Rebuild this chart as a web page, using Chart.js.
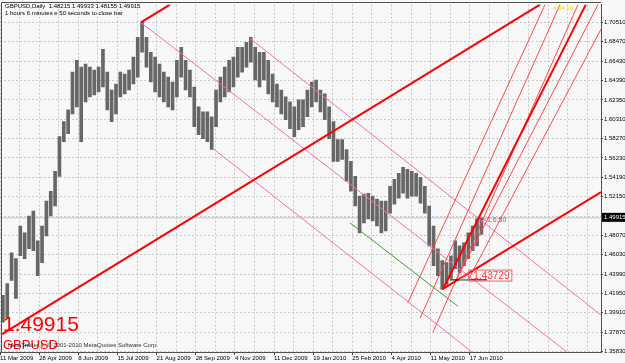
<!DOCTYPE html>
<html>
<head>
<meta charset="utf-8">
<script src="https://cdn.jsdelivr.net/npm/chart.js@4.4.1/dist/chart.umd.min.js"></script>
<style>
  html, body { margin: 0; padding: 0; background: #f8f8f8; }
  canvas { display: block; }
</style>
</head>
<body>
<canvas id="chart" width="625" height="363"></canvas>
<script>
// GBPUSD daily, one entry per ~3 trading days, x in trading days from 11 Mar 2009
var dateLabels = ["11 Mar 2009", "28 Apr 2009", "8 Jun 2009", "15 Jul 2009", "21 Aug 2009", "28 Sep 2009",
  "4 Nov 2009", "11 Dec 2009", "19 Jan 2010", "25 Feb 2010", "4 Apr 2010", "11 May 2010", "17 Jun 2010"];
var priceTicks = [1.35830, 1.37870, 1.39910, 1.41950, 1.43990, 1.46030, 1.48070, 1.50110, 1.52150,
  1.54190, 1.56230, 1.58270, 1.60310, 1.62350, 1.64390, 1.66430, 1.68470, 1.70510];

var barHighs = [1.4174, 1.4300, 1.4624, 1.4561, 1.4906, 1.4833, 1.5011, 1.5063, 1.4749, 1.4906,
  1.5168, 1.5272, 1.5482, 1.5848, 1.6005, 1.6130, 1.6528, 1.6653, 1.6580, 1.6611,
  1.6580, 1.6549, 1.6580, 1.6768, 1.6528, 1.6339, 1.6402, 1.6528, 1.6507, 1.6549,
  1.6685, 1.6894, 1.7051, 1.6894, 1.6737, 1.6685, 1.6611, 1.6528, 1.6475, 1.6423,
  1.6653, 1.6789, 1.6653, 1.6549, 1.6371, 1.6162, 1.6109, 1.6109, 1.6057, 1.6339,
  1.6475, 1.6580, 1.6653, 1.6685, 1.6789, 1.6789, 1.6842, 1.6894, 1.6789, 1.6737,
  1.6737, 1.6653, 1.6507, 1.6402, 1.6339, 1.6266, 1.6214, 1.6162, 1.6235, 1.6235,
  1.6339, 1.6423, 1.6444, 1.6339, 1.6298, 1.6162, 1.6005, 1.5816, 1.5816, 1.5712,
  1.5586, 1.5429, 1.5220, 1.5241, 1.5251, 1.5220, 1.5189, 1.5168, 1.5168, 1.5325,
  1.5398, 1.5461, 1.5523, 1.5503, 1.5482, 1.5461, 1.5419, 1.5325, 1.5116, 1.4906,
  1.4666, 1.4540, 1.4519, 1.4592, 1.4749, 1.4697, 1.4728, 1.4833, 1.4906, 1.4980,
  1.4993];
var barLows = [1.3892, 1.3933, 1.4331, 1.4143, 1.4592, 1.4561, 1.4666, 1.4645, 1.4383, 1.4519,
  1.4802, 1.5011, 1.5116, 1.5429, 1.5795, 1.5879, 1.6088, 1.6162, 1.5795, 1.6214,
  1.6266, 1.6287, 1.6318, 1.6371, 1.6130, 1.6005, 1.6088, 1.6266, 1.6298, 1.6339,
  1.6402, 1.6475, 1.6737, 1.6580, 1.6423, 1.6318, 1.6266, 1.6214, 1.6162, 1.6130,
  1.6266, 1.6475, 1.6339, 1.6266, 1.5952, 1.5869, 1.5827, 1.5795, 1.5712, 1.5952,
  1.6214, 1.6266, 1.6318, 1.6371, 1.6475, 1.6528, 1.6580, 1.6632, 1.6444, 1.6371,
  1.6444, 1.6298, 1.6214, 1.6162, 1.6088, 1.6026, 1.5931, 1.5848, 1.5921, 1.5952,
  1.6057, 1.6162, 1.6214, 1.6109, 1.6026, 1.5827, 1.5586, 1.5586, 1.5607, 1.5377,
  1.5272, 1.5116, 1.4833, 1.4938, 1.4980, 1.4959, 1.4906, 1.4833, 1.4854, 1.5042,
  1.5136, 1.5199, 1.5251, 1.5199, 1.5220, 1.5220, 1.5147, 1.5042, 1.4697, 1.4488,
  1.4383, 1.4237, 1.4289, 1.4352, 1.4456, 1.4415, 1.4488, 1.4561, 1.4645, 1.4697,
  1.4816];

var lastPrice = 1.49915;
var priceLabel = 1.43729;

// drawn objects, each [[day, price], [day, price]]
var redThick = [
  [[1.4, 1.3766], [372.4, 1.7239]],
  [[97.2, 1.7051], [117.2, 1.7239]],
  [[305.5, 1.4242], [414.5, 1.5262]],
  [[305.5, 1.4242], [404.0, 1.7239]]
];
var redThin = [
  [[281.4, 1.4101], [375.9, 1.7239]],
  [[289.7, 1.3933], [386.2, 1.7239]],
  [[298.6, 1.3786], [398.6, 1.7239]],
  [[313.8, 1.4310], [414.5, 1.7300]],
  [[323.4, 1.4352], [414.5, 1.6980]]
];
var pinkLines = [
  [[172.4, 1.6883], [414.5, 1.3967]],
  [[97.2, 1.7051], [391.0, 1.3578]],
  [[146.9, 1.5722], [325.5, 1.3578]]
];
var greenLines = [
  [[241.4, 1.4938], [315.9, 1.4059]]
];
var blackLines = [
  [[310.3, 1.4338], [335.9, 1.4338]]
];

var barDays = barHighs.map(function (h, i) { return 2 + 3 * i; });
var gridDays = [];
for (var k = 0; k <= 30; k++) gridDays.push(13.5 * k);

function seg(points, color, width, order) {
  return {
    type: "line",
    data: points.map(function (p) { return { x: p[0], y: p[1] }; }),
    borderColor: color,
    borderWidth: width,
    pointRadius: 0,
    fill: false,
    tension: 0,
    clip: 0,
    order: order
  };
}

var datasets = [];
datasets.push(seg([[0, lastPrice], [414.5, lastPrice]], "#c4c4c4", 1, 20));
datasets.push({
  type: "bar",
  data: barDays.map(function (d, i) { return { x: d, y: [barLows[i], barHighs[i]] }; }),
  backgroundColor: "#676767",
  barThickness: 3,
  grouped: false,
  order: 10
});
pinkLines.forEach(function (l) { datasets.push(seg(l, "#f76cb6", 1, 5)); });
greenLines.forEach(function (l) { datasets.push(seg(l, "#3ca03c", 1, 5)); });
redThin.forEach(function (l) { datasets.push(seg(l, "#ff4a4a", 1, 4)); });
redThick.forEach(function (l) { datasets.push(seg(l, "#ff0000", 2, 3)); });
blackLines.forEach(function (l) { datasets.push(seg(l, "#000000", 1, 2)); });

var overlay = {
  id: "overlay",
  beforeDraw: function (chart) {
    var ctx = chart.ctx;
    ctx.save();
    ctx.fillStyle = "#f8f8f8";
    ctx.fillRect(0, 0, chart.width, chart.height);
    ctx.restore();
  },
  afterDraw: function (chart) {
    var ctx = chart.ctx, xs = chart.scales.x, ys = chart.scales.y;
    ctx.save();
    // frame
    ctx.strokeStyle = "#505050";
    ctx.lineWidth = 1;
    ctx.beginPath();
    ctx.moveTo(1.5, 352); ctx.lineTo(1.5, 2.5); ctx.lineTo(601, 2.5);
    ctx.stroke();

    ctx.textBaseline = "middle";
    ctx.fillStyle = "#000000";
    ctx.font = "6px 'Liberation Sans'";
    ctx.fillText("GBPUSD,Daily  1.48215 1.49933 1.48155 1.49915", 5, 6.5);
    ctx.fillText("1 hours 6 minutes e 50 seconds to close bar", 5, 13);

    ctx.fillStyle = "#ff0000";
    ctx.font = "21px 'Liberation Sans'";
    ctx.textBaseline = "alphabetic";
    ctx.fillText("1.49915", 3, 331);
    ctx.font = "13px 'Liberation Sans'";
    ctx.fillText("GBPUSD", 3, 349);
    ctx.fillStyle = "#333333";
    ctx.font = "6px 'Liberation Sans'";
    ctx.textBaseline = "middle";
    ctx.fillText("MetaTrader 4, \u00a9 2001-2010 MetaQuotes Software Corp.", 8, 345);

    // yellow clock text
    ctx.fillStyle = "#e8e000";
    ctx.fillText("4:34:19", 553, 8);

    // time left label near last bar
    ctx.fillStyle = "#b040b0";
    ctx.font = "7px 'Liberation Sans'";
    ctx.fillText("<1:6:50", xs.getPixelForValue(333), ys.getPixelForValue(lastPrice) + 2);

    // price label object
    var px = xs.getPixelForValue(323), py = ys.getPixelForValue(priceLabel);
    ctx.strokeStyle = "#ff6060";
    ctx.strokeRect(px + 0.5, py - 6.5, 43, 11);
    ctx.fillStyle = "#ff4040";
    ctx.font = "10px 'Liberation Sans'";
    ctx.fillText(priceLabel.toFixed(5), px + 5, py);
    ctx.beginPath();
    ctx.moveTo(px - 9, py + 3); ctx.lineTo(px, py - 4); ctx.lineTo(px, py + 3); ctx.closePath();
    ctx.stroke();

    // current price box on the axis
    var cy = ys.getPixelForValue(lastPrice);
    ctx.fillStyle = "#000000";
    ctx.fillRect(602, cy - 5, 23, 9);
    ctx.fillStyle = "#ffffff";
    ctx.font = "6px 'Liberation Sans'";
    ctx.fillText(lastPrice.toFixed(5), 604, cy - 0.5);
    ctx.restore();
  }
};

new Chart(document.getElementById("chart"), {
  data: { datasets: datasets },
  options: {
    responsive: false,
    animation: false,
    devicePixelRatio: 1,
    layout: { padding: { top: 2, left: 0, right: 0, bottom: 0 } },
    plugins: { legend: { display: false }, tooltip: { enabled: false } },
    scales: {
      x: {
        type: "linear",
        min: 0,
        max: 414.5,
        offset: false,
        afterFit: function (s) { s.height = 11; },
        afterBuildTicks: function (s) { s.ticks = gridDays.map(function (d) { return { value: d }; }); },
        grid: {
          offset: false,
          color: "#c8c8c8",
          tickLength: 3,
          tickColor: function (c) { return c.index % 2 === 0 && c.index <= 24 ? "#404040" : "rgba(0,0,0,0)"; }
        },
        border: { color: "#505050", dash: [2, 2] },
        ticks: {
          autoSkip: false,
          maxRotation: 0,
          align: "start",
          padding: 0,
          color: "#000000",
          font: { family: "'Liberation Sans'", size: 6 },
          callback: function (v, i) { return i % 2 === 0 && dateLabels[i / 2] ? dateLabels[i / 2] : ""; }
        }
      },
      y: {
        type: "linear",
        position: "right",
        min: 1.35777,
        max: 1.72391,
        afterFit: function (s) { s.width = 24; },
        afterBuildTicks: function (s) { s.ticks = priceTicks.map(function (v) { return { value: v }; }); },
        grid: { color: "#c8c8c8", tickLength: 2, tickColor: "#404040" },
        border: { color: "#505050", dash: [2, 2] },
        ticks: {
          padding: 1,
          color: "#000000",
          font: { family: "'Liberation Sans'", size: 6 },
          callback: function (v) { return Math.abs(v - 1.5011) < 1e-6 ? "" : v.toFixed(5); }
        }
      }
    }
  },
  plugins: [overlay]
});
</script>
</body>
</html>
